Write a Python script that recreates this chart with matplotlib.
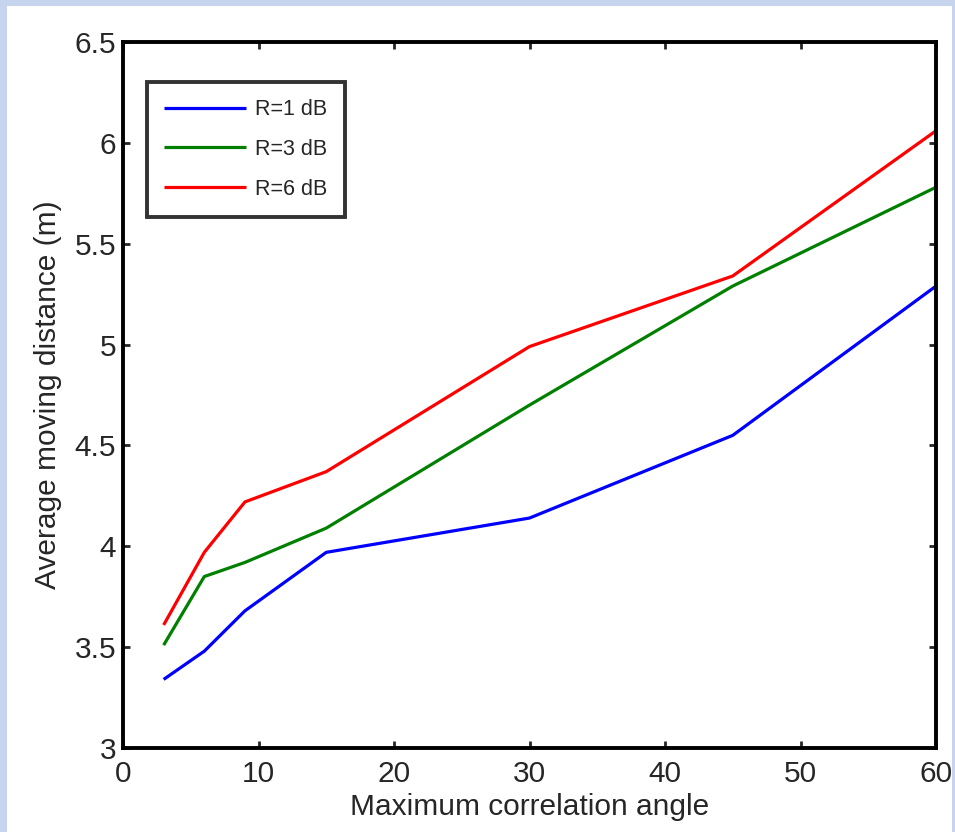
import matplotlib
matplotlib.use("Agg")
import matplotlib.pyplot as plt
from matplotlib.patches import Rectangle

angles = [3, 6, 9, 15, 30, 45, 60]
r1 = [3.34, 3.48, 3.68, 3.97, 4.14, 4.55, 5.29]
r3 = [3.51, 3.85, 3.92, 4.09, 4.70, 5.29, 5.78]
r6 = [3.61, 3.97, 4.22, 4.37, 4.99, 5.34, 6.06]
labels = ["R=1 dB", "R=3 dB", "R=6 dB"]
colors = ["#0000ff", "#008000", "#ff0000"]
xticks = [0, 10, 20, 30, 40, 50, 60]
yticks = [3, 3.5, 4, 4.5, 5, 5.5, 6, 6.5]
yticklabels = ["3", "3.5", "4", "4.5", "5", "5.5", "6", "6.5"]

plt.rcParams['font.family'] = ['Liberation Sans', 'DejaVu Sans']

W, H = 955, 832
fig = plt.figure(figsize=(W/100, H/100), dpi=100, facecolor="#c6d4ee")
fig.patches.append(Rectangle((7/W, 0), (952-7)/W, (H-6)/H, transform=fig.transFigure,
                             facecolor="white", edgecolor="none", zorder=-10))

ax = fig.add_axes([123/W, 1-748/H, (936-123)/W, (748-42)/H])
ax.set_zorder(5)
for ys, lab, c in zip([r1, r3, r6], labels, colors):
    ax.plot(angles, ys, color=c, lw=2.3, label=lab, solid_capstyle='butt')

ax.set_xlim(0, 60)
ax.set_ylim(3, 6.5)
ax.set_xticks(xticks)
ax.set_yticks(yticks)
ax.set_yticklabels(yticklabels)
ax.tick_params(direction='in', length=5, width=2, top=True, right=True,
               labelsize=21.5, colors="#262626", pad=5)
ax.tick_params(axis='x', pad=9)
for s in ax.spines.values():
    s.set_linewidth(2.8)
    s.set_color("black")

ax.set_xlabel("Maximum correlation angle", fontsize=21.5, color="#262626", labelpad=3)
ax.set_ylabel("Average moving distance (m)", fontsize=21.5, color="#262626", labelpad=9)

leg = ax.legend(loc='upper left', bbox_to_anchor=((147-123)/(936-123), 1-(82-42)/(748-42)),
                fontsize=15.5, frameon=True, fancybox=False, borderpad=0.8,
                handlelength=3.8, labelspacing=0.87, handletextpad=0.42, borderaxespad=0)
leg.get_frame().set_edgecolor("black")
leg.get_frame().set_linewidth(2.8)
for t in leg.get_texts():
    t.set_color("#262626")

fig.savefig("out.png", dpi=100, facecolor=fig.get_facecolor())
